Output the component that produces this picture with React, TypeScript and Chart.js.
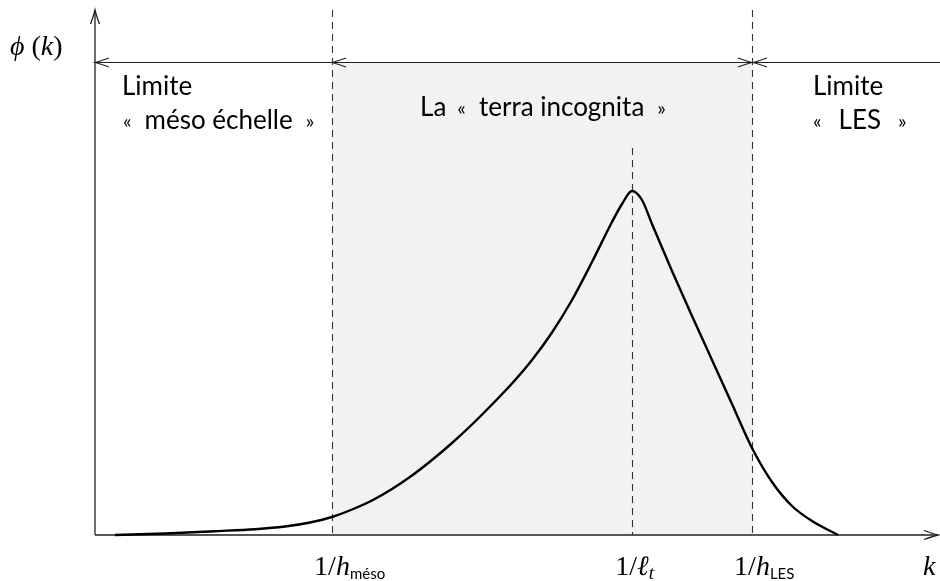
import React, { useEffect, useRef } from "react";
import { Chart, registerables } from "chart.js";

Chart.register(...registerables);

// Spectrum curve phi(k), arbitrary units (k axis 0..845, phi axis 0..525)
const kValues = [20, 70, 120, 160, 190, 215, 237, 257, 277, 297, 317, 337, 357, 377, 397, 417, 437, 457, 477, 497, 517, 527, 537, 547, 557, 577, 597, 617, 637, 657, 677, 697, 717, 743];
const phiValues = [0, 1.5, 3.8, 5.8, 8.5, 12.5, 18, 25.5, 34.5, 46, 59.5, 75, 92, 110.5, 130.5, 151.5, 175, 202.5, 235, 273, 313, 331, 344, 335, 311, 264, 219, 175, 131, 87, 53, 29, 14, 0];

// Characteristic wavenumbers
const kMeso = 237; // 1/h_méso
const kLt = 537; // 1/l_t
const kLES = 657; // 1/h_LES
const kMax = 845;
const phiMax = 525;
const bandLevel = 473; // height of the double-arrow band line
const peakDashTop = 387;

const tickMain = ["1/", "1/", "1/"];
const tickSym = ["h", "ℓ", "h"];
const tickSub = ["méso", "t", "LES"];
const regionTitles = ["Limite", "La", "Limite"];
const regionNames = ["méso échelle", "terra incognita", "LES"];

const SANS = 'Lato, "Open Sans", "DejaVu Sans", sans-serif';
const SERIF = '"Liberation Serif", "DejaVu Serif", serif';

type Run = { t: string; font: string; dy?: number; gap?: number };

function drawRuns(ctx: CanvasRenderingContext2D, runs: Run[], x: number, y: number) {
  let cx = x;
  for (const r of runs) {
    if (r.gap) { cx += r.gap; continue; }
    ctx.font = r.font;
    ctx.fillText(r.t, cx, y + (r.dy || 0));
    cx += ctx.measureText(r.t).width;
  }
  return cx;
}
function runsWidth(ctx: CanvasRenderingContext2D, runs: Run[]) {
  let w = 0;
  for (const r of runs) {
    if (r.gap) { w += r.gap; continue; }
    ctx.font = r.font;
    w += ctx.measureText(r.t).width;
  }
  return w;
}

function arrowHead(ctx: CanvasRenderingContext2D, tx: number, ty: number, dx: number, dy: number, len = 14, half = 4.5) {
  const px = -dy, py = dx;
  ctx.beginPath();
  ctx.moveTo(tx - dx * len + px * half, ty - dy * len + py * half);
  ctx.quadraticCurveTo(tx - dx * len * 0.35 + px * half * 0.25, ty - dy * len * 0.35 + py * half * 0.25, tx, ty);
  ctx.quadraticCurveTo(tx - dx * len * 0.35 - px * half * 0.25, ty - dy * len * 0.35 - py * half * 0.25, tx - dx * len - px * half, ty - dy * len - py * half);
  ctx.stroke();
}

const guil = (s: string): Run => ({ t: s, font: `20px ${SANS}`, dy: -1 });
const big = `26px ${SANS}`;
const gap = (g: number): Run => ({ t: "", font: "", gap: g });

const decorPlugin = {
  id: "decor",
  beforeDatasetsDraw(chart: any) {
    const { ctx, scales } = chart;
    const xs = scales.x, ys = scales.y;
    const X = (v: number) => xs.getPixelForValue(v);
    const Y = (v: number) => ys.getPixelForValue(v);
    ctx.save();
    // shaded terra incognita band
    ctx.fillStyle = "#f2f2f2";
    ctx.fillRect(X(kMeso), Y(bandLevel), X(kLES) - X(kMeso), Y(0) - Y(bandLevel));

    // dashed lines
    ctx.strokeStyle = "#333";
    ctx.lineWidth = 1.1;
    ctx.setLineDash([7, 5]);
    for (const k of [kMeso, kLES]) {
      ctx.beginPath();
      ctx.moveTo(Math.round(X(k)) + 0.5, Y(phiMax));
      ctx.lineTo(Math.round(X(k)) + 0.5, Y(0));
      ctx.stroke();
    }
    ctx.beginPath();
    ctx.moveTo(Math.round(X(kLt)) + 0.5, Y(peakDashTop));
    ctx.lineTo(Math.round(X(kLt)) + 0.5, Y(0));
    ctx.stroke();
    ctx.setLineDash([]);

    // axes
    ctx.strokeStyle = "#222";
    ctx.lineWidth = 1.3;
    ctx.beginPath();
    ctx.moveTo(X(0), Y(0));
    ctx.lineTo(X(0), Y(phiMax));
    ctx.moveTo(X(0), Y(0));
    ctx.lineTo(X(kMax) - 2, Y(0));
    ctx.stroke();
    arrowHead(ctx, X(0), Y(phiMax), 0, -1);
    arrowHead(ctx, X(kMax) - 2, Y(0), 1, 0);

    // band line with arrows
    const by = Math.round(Y(bandLevel)) + 0.5;
    ctx.lineWidth = 1.2;
    ctx.beginPath();
    ctx.moveTo(X(0), by);
    ctx.lineTo(X(kMax), by);
    ctx.stroke();
    arrowHead(ctx, X(0), by, -1, 0);
    arrowHead(ctx, X(kMeso), by, -1, 0);
    arrowHead(ctx, X(kLES), by, 1, 0);
    arrowHead(ctx, X(kLES) + 1, by, -1, 0);

    // region texts
    ctx.fillStyle = "#000";
    ctx.textBaseline = "alphabetic";
    ctx.textAlign = "left";
    const quoted = (name: string, g = 13): Run[] => [guil("«"), gap(g), { t: name, font: big }, gap(g), guil("»")];
    drawRuns(ctx, [{ t: regionTitles[0], font: big }], X(27), 95);
    drawRuns(ctx, quoted(regionNames[0]), X(28), 129);
    const mid: Run[] = [{ t: regionTitles[1], font: big }, gap(11), ...quoted(regionNames[1])];
    const mw = runsWidth(ctx, mid);
    drawRuns(ctx, mid, (X(kMeso) + X(kLES)) / 2 + 1 - mw / 2, 116);
    drawRuns(ctx, [{ t: regionTitles[2], font: big }], X(kLES) + 61, 95);
    drawRuns(ctx, quoted(regionNames[2], 17), X(kLES) + 61, 129);

    // axis titles
    const mfont = `28px ${SERIF}`;
    const mital = `italic 28px ${SERIF}`;
    drawRuns(ctx, [{ t: "ϕ", font: mital }, { t: " (", font: mfont }, { t: "k", font: mital }, { t: ")", font: mfont }], 10, 55);
    drawRuns(ctx, [{ t: "k", font: mital }], X(kMax) - 17, 575);

    // tick labels
    const ticks = [kMeso, kLt, kLES];
    ticks.forEach((k, i) => {
      const main: Run[] = [{ t: tickMain[i], font: mfont }, { t: tickSym[i], font: mital }];
      const w = runsWidth(ctx, main);
      const subFont = i === 1 ? `italic 19px ${SERIF}` : `15px ${SANS}`;
      drawRuns(ctx, [...main, { t: tickSub[i], font: subFont, dy: 4 }], X(k) - w / 2, 575);
    });
    ctx.restore();
  },
};

export default function App() {
  const ref = useRef<HTMLCanvasElement>(null);
  useEffect(() => {
    document.body.style.margin = "0";
    const points = kValues.map((k, i) => ({ x: k, y: phiValues[i] }));
    const chart = new Chart(ref.current!, {
      type: "scatter",
      data: {
        datasets: [
          {
            data: points,
            showLine: true,
            borderColor: "#000",
            borderWidth: 2.4,
            pointRadius: 0,
            cubicInterpolationMode: "monotone",
            clip: false as any,
          } as any,
        ],
      },
      options: {
        responsive: false,
        animation: false,
        layout: { padding: { left: 95, right: 0, top: 10, bottom: 46 } },
        scales: {
          x: { type: "linear", min: 0, max: kMax, display: false },
          y: { type: "linear", min: 0, max: phiMax, display: false },
        },
        plugins: { legend: { display: false }, tooltip: { enabled: false } },
      },
      plugins: [decorPlugin],
    });
    return () => chart.destroy();
  }, []);
  return (
    <div style={{ position: "absolute", left: 0, top: 0, width: 940, height: 581 }}>
      <canvas ref={ref} width={940} height={581} />
    </div>
  );
}
